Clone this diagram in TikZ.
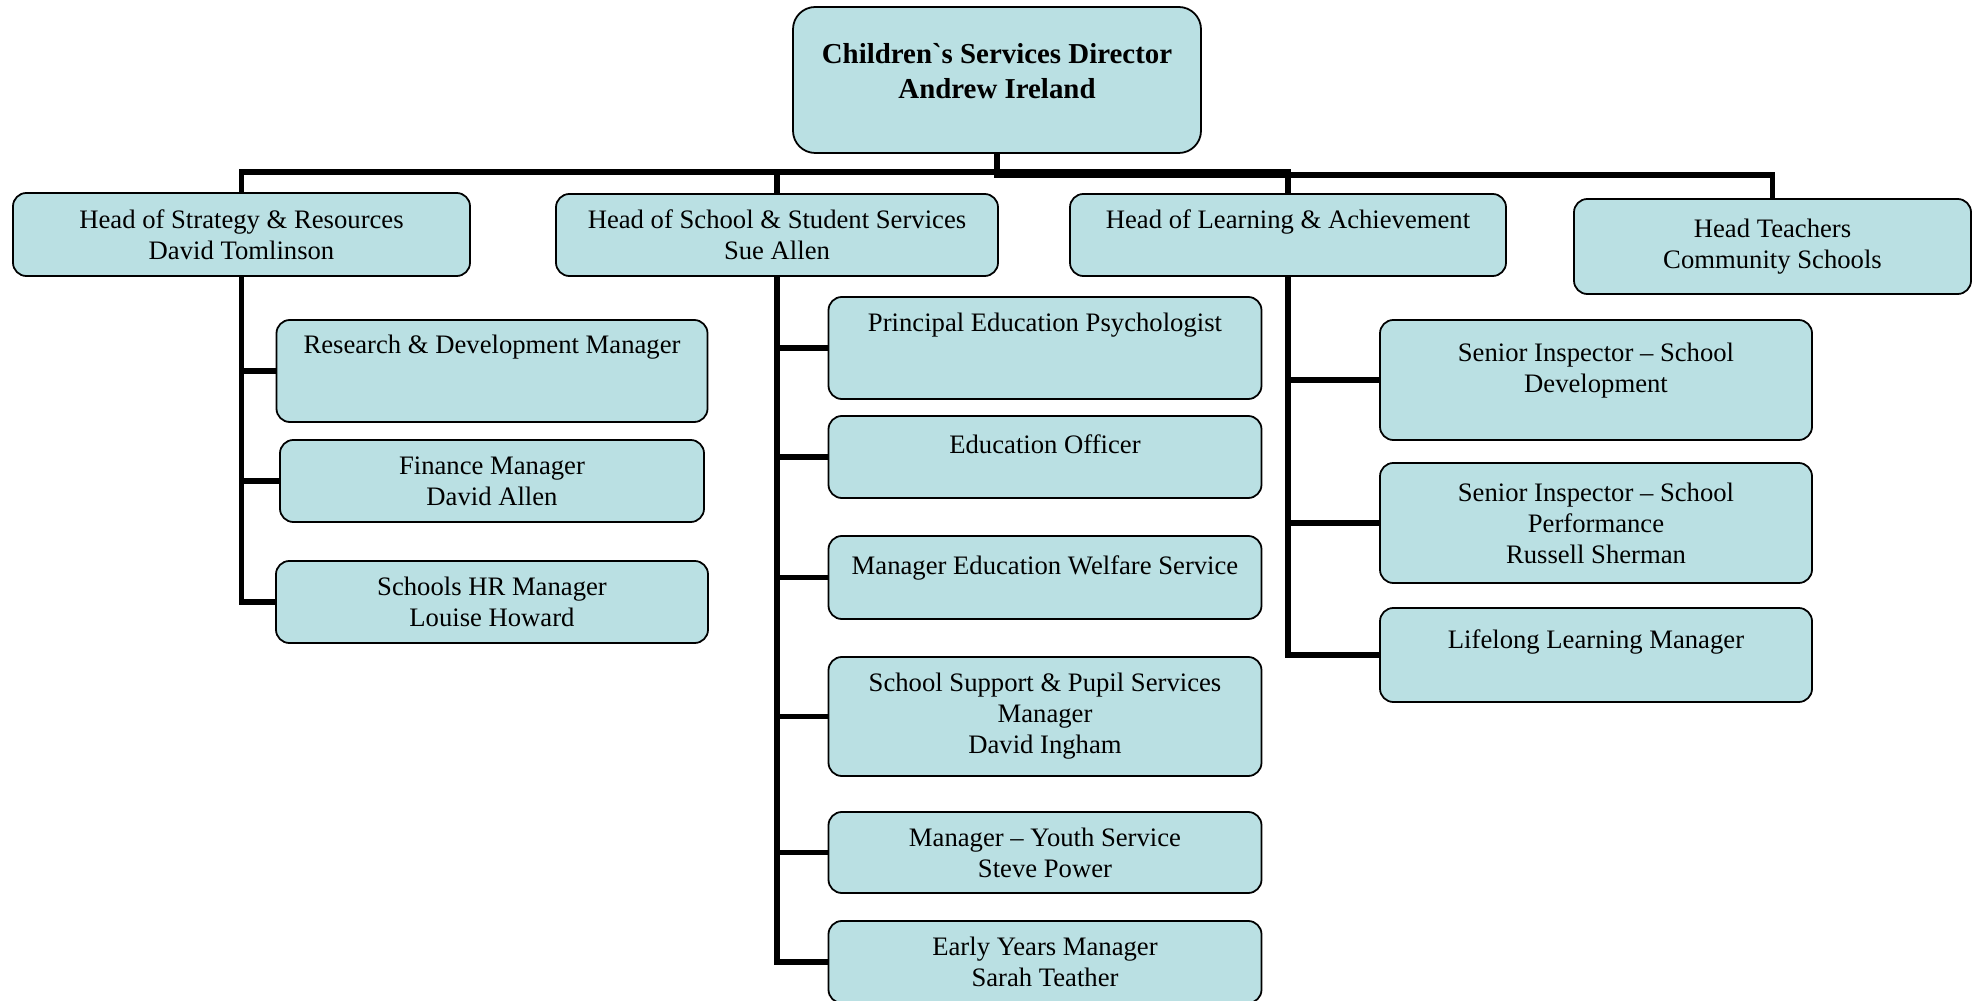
\documentclass[tikz,border=0pt]{standalone}
\usepackage{fontspec}
\setmainfont{Liberation Serif}
\usepackage{xcolor}
\usetikzlibrary{positioning}
\definecolor{boxfill}{RGB}{186,224,227}
\newdimen\pxu
\pxu=0.45pt

\begin{document}
\begin{tikzpicture}[x=0.45pt, y=-0.45pt, every node/.style={font=\fontsize{12}{13.95}\selectfont}]
\tikzstyle{block}=[rectangle, draw, fill=boxfill, rounded corners=6pt, line width=0.8pt, align=center, inner sep=0pt, outer sep=0pt]
\tikzstyle{link}=[line width=2.3pt]
\useasboundingbox (0,0) rectangle (1973,1001);
% top
\node[block, rounded corners=10pt, minimum width=408\pxu, minimum height=146\pxu, font=\fontsize{13}{15.75}\selectfont\bfseries] (dir) at (997,80) {Children{\addfontfeatures{Ligatures=TeXOff}`}s Services Director\\Andrew Ireland\\[-12.5pt]\strut};
\coordinate (busA) at (997,172);
\coordinate (busB) at (997,175);
% heads
\node[block, minimum width=457\pxu, minimum height=83\pxu] (strat) at (241.5,234.5) {Head of Strategy \& Resources\\David Tomlinson};
\node[block, minimum width=442\pxu, minimum height=82\pxu] (serv) at (777,235) {Head of School \& Student Services\\Sue Allen};
\node[block, minimum width=436\pxu, minimum height=82\pxu] (learn) at (1288,235) {Head of Learning \& Achievement\\[-3.6pt]\strut};
\node[block, minimum width=397\pxu, minimum height=95\pxu] (teach) at (1772.5,246.5) {Head Teachers\\Community Schools};
% strategy team
\node[block, minimum width=431\pxu, minimum height=102\pxu] (rd) at (492,371) {Research \& Development Manager\\[5.5pt]\strut};
\node[block, minimum width=424\pxu, minimum height=82\pxu, below=18\pxu of rd] (fin) {Finance Manager\\David Allen};
\node[block, minimum width=432\pxu, minimum height=82\pxu, below=39\pxu of fin] (hr) {Schools HR Manager\\Louise Howard};
% school & student services team
\node[block, minimum width=433\pxu, minimum height=102\pxu] (pep) at (1045,348) {Principal Education Psychologist\\[5pt]\strut};
\node[block, minimum width=433\pxu, minimum height=82\pxu, below=17\pxu of pep] (eo) {Education Officer\\[-6.3pt]\strut};
\node[block, minimum width=433\pxu, minimum height=83\pxu, below=38\pxu of eo] (mews) {Manager Education Welfare Service\\[-6.7pt]\strut};
\node[block, minimum width=433\pxu, minimum height=119\pxu, below=38\pxu of mews] (ssps) {School Support \& Pupil Services\\Manager\\David Ingham};
\node[block, minimum width=433\pxu, minimum height=81\pxu, below=36\pxu of ssps] (youth) {Manager -- Youth Service\\Steve Power};
\node[block, minimum width=433\pxu, minimum height=82\pxu, below=28\pxu of youth] (early) {Early Years Manager\\Sarah Teather};
% learning team
\node[block, minimum width=432\pxu, minimum height=120\pxu] (sid) at (1596,380) {Senior Inspector -- School\\Development\\[-6.7pt]\strut};
\node[block, minimum width=432\pxu, minimum height=120\pxu, below=23\pxu of sid] (sip) {Senior Inspector -- School\\Performance\\Russell Sherman};
\node[block, minimum width=432\pxu, minimum height=94\pxu, below=25\pxu of sip] (ll) {Lifelong Learning Manager\\[-3.6pt]\strut};
% links
\draw[link] (dir.south) -- (busA) -| (strat.north);
\draw[link] (dir.south) -- (busA) -| (serv.north);
\draw[link] (dir.south) -- (busA) -| (learn.north);
\draw[link] (dir.south) -- (busB) -| (teach.north);
\draw[link] (strat.south) |- (rd.west);
\draw[link] (strat.south) |- (fin.west);
\draw[link] (strat.south) |- (hr.west);
\draw[link] (serv.south) |- (pep.west);
\draw[link] (serv.south) |- (eo.west);
\draw[link] (serv.south) |- (mews.west);
\draw[link] (serv.south) |- (ssps.west);
\draw[link] (serv.south) |- (youth.west);
\draw[link] (serv.south) |- (early.west);
\draw[link] (learn.south) |- (sid.west);
\draw[link] (learn.south) |- (sip.west);
\draw[link] (learn.south) |- (ll.west);
\end{tikzpicture}
\end{document}
